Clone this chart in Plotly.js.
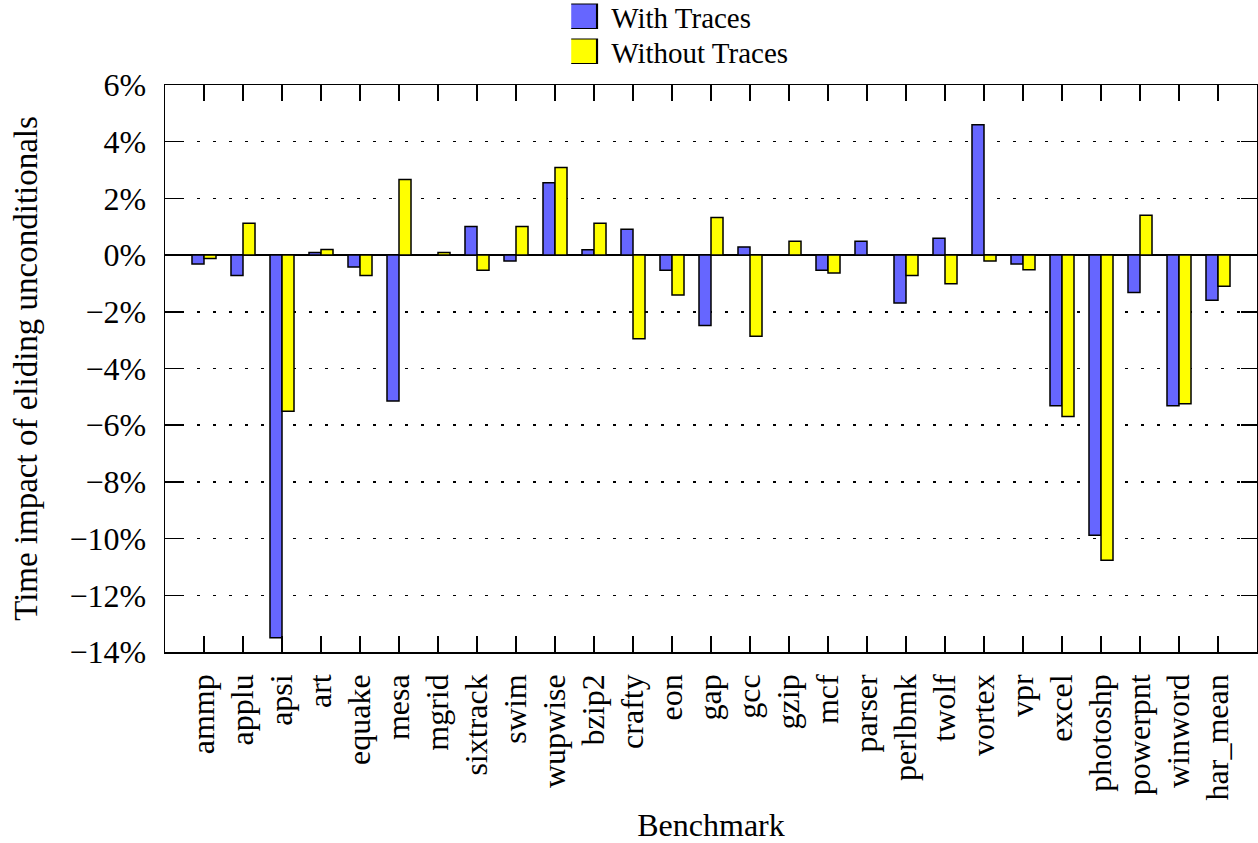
<!DOCTYPE html>
<html>
<head>
<meta charset="utf-8">
<script src="https://cdn.plot.ly/plotly-3.0.1.min.js"></script>
<style>
html,body{margin:0;padding:0;background:#fff;}
#chart{width:1258px;height:843px;}
</style>
</head>
<body>
<div id="chart"></div>
<script>
const benchmarks = ["ammp","applu","apsi","art","equake","mesa","mgrid","sixtrack","swim","wupwise","bzip2","crafty","eon","gap","gcc","gzip","mcf","parser","perlbmk","twolf","vortex","vpr","excel","photoshp","powerpnt","winword","har_mean"];
const withTraces = [-0.31,-0.72,-13.5,0.09,-0.42,-5.15,0,1.01,-0.21,2.55,0.19,0.91,-0.53,-2.48,0.29,0,-0.53,0.49,-1.69,0.59,4.6,-0.31,-5.31,-9.88,-1.32,-5.31,-1.59];
const withoutTraces = [-0.12,1.12,-5.51,0.2,-0.72,2.67,0.09,-0.53,1.01,3.09,1.12,-2.95,-1.41,1.33,-2.86,0.49,-0.63,0,-0.72,-1.01,-0.21,-0.52,-5.69,-10.76,1.41,-5.24,-1.1];
const yTickVals = [6,4,2,0,-2,-4,-6,-8,-10,-12,-14];

const FONT = "Liberation Serif, Times New Roman, serif";

const traces = [
  {type:"bar", name:"With Traces", x:benchmarks, y:withTraces,
   marker:{color:"#6666ff", line:{color:"#000", width:1.5}}},
  {type:"bar", name:"Without Traces", x:benchmarks, y:withoutTraces,
   marker:{color:"#ffff00", line:{color:"#000", width:1.5}}}
];

const layout = {
  width:1258, height:843,
  margin:{l:165, r:1, t:85, b:191, autoexpand:false},
  paper_bgcolor:"#fff", plot_bgcolor:"#fff",
  font:{family:FONT, size:32, color:"#000"},
  barmode:"group", bargap:0.384, bargroupgap:0,
  showlegend:true,
  legend:{x:0.372, xanchor:"left", y:1.166, yanchor:"top", bgcolor:"rgba(0,0,0,0)",
          font:{family:FONT, size:29}, tracegroupgap:0},
  xaxis:{
    type:"category", range:[-1, benchmarks.length],
    tickangle:-90, ticks:"inside", ticklen:16, tickwidth:1.5, tickcolor:"#000",
    showline:true, linecolor:"#000", linewidth:1.5, mirror:"ticks",
    showgrid:false, zeroline:false,
    tickfont:{family:FONT, size:32}, ticklabelstandoff:8,
    title:{text:"Benchmark", font:{family:FONT, size:32}, standoff:18}
  },
  yaxis:{
    range:[-14, 6], tickvals:yTickVals, ticktext:yTickVals.map(v => (v<0?"\u2212"+(-v):String(v))+"%"),
    ticks:"inside", ticklen:16, tickwidth:1.5, tickcolor:"#000",
    showline:true, linecolor:"#000", linewidth:1.5, mirror:"ticks",
    showgrid:true, gridcolor:"#000", gridwidth:1.5, griddash:"3px,13px",
    zeroline:true, zerolinecolor:"#000", zerolinewidth:1.5,
    tickfont:{family:FONT, size:32}, ticklabelstandoff:11,
    title:{text:"Time impact of eliding unconditionals", font:{family:FONT, size:33}, standoff:22}
  }
};

Plotly.newPlot("chart", traces, layout, {displayModeBar:false, staticPlot:true}).then(gd => {
  gd.querySelectorAll(".legend .legendpoints path").forEach(p => {
    p.setAttribute("transform", "scale(4.3,2.05)");
    p.style.strokeWidth = "0.5px";
  });
  const items = gd.querySelectorAll(".legend .traces");
  if (items.length === 2) {
    const m = /translate\(([-\d.]+),\s*([-\d.]+)\)/.exec(items[0].getAttribute("transform") || "");
    if (m) {
      items[1].setAttribute("transform", "translate(" + m[1] + "," + (parseFloat(m[2]) + 35) + ")");
    }
  }
});
</script>
</body>
</html>
